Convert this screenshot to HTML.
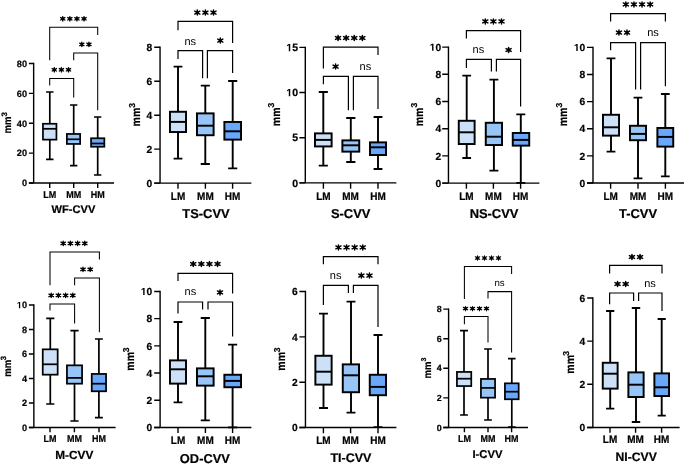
<!DOCTYPE html><html><head><meta charset="utf-8"><style>html,body{margin:0;padding:0;background:#fff;width:685px;height:464px;overflow:hidden}svg{display:block;will-change:transform}text{font-family:"Liberation Sans",sans-serif;text-rendering:geometricPrecision}text[font-weight=bold]{stroke:#000;stroke-width:0.2px}</style></head><body>
<svg width="685" height="464" viewBox="0 0 685 464">
<rect width="685" height="464" fill="#fff"/>
<g><path d="M33.65 62.85V183.7M28.9 183H114" stroke="#000" stroke-width="1.4" fill="none"/><path d="M28.9 63.55H33.65M28.9 93.41H33.65M28.9 123.28H33.65M28.9 153.14H33.65M28.9 183H33.65" stroke="#000" stroke-width="1.4" fill="none"/><path d="M49.7 183V187.9M73.7 183V187.9M97.7 183V187.9" stroke="#000" stroke-width="1.4" fill="none"/><text x="27" y="66.84" font-size="9.18" font-weight="bold" text-anchor="end">80</text><text x="27" y="96.7" font-size="9.18" font-weight="bold" text-anchor="end">60</text><text x="27" y="126.56" font-size="9.18" font-weight="bold" text-anchor="end">40</text><text x="27" y="156.42" font-size="9.18" font-weight="bold" text-anchor="end">20</text><text x="27" y="186.29" font-size="9.18" font-weight="bold" text-anchor="end">0</text><text transform="translate(49.7 197.72) scale(1 1.11)" font-size="9" font-weight="bold" text-anchor="middle">LM</text><text transform="translate(73.7 197.72) scale(1 1.11)" font-size="9" font-weight="bold" text-anchor="middle">MM</text><text transform="translate(97.7 197.72) scale(1 1.11)" font-size="9" font-weight="bold" text-anchor="middle">HM</text><text x="73.45" y="213.47" font-size="11.1" font-weight="bold" text-anchor="middle">WF-CVV</text><text transform="translate(10.5 125.05) rotate(-90) scale(1 1.1)" font-size="9.54" font-weight="bold" text-anchor="middle">mm</text><text transform="translate(6.5 114.35) rotate(-90)" font-size="7.92" font-weight="bold" text-anchor="middle">3</text><path d="M49.8 92V123.76M49.8 139.64V159.4M46.08 92H53.52M46.08 159.4H53.52" stroke="#000" stroke-width="1.68" fill="none"/><rect x="42.96" y="123.76" width="13.48" height="15.88" fill="#cce1f7" stroke="#000" stroke-width="1.72"/><path d="M42.96 128.8H56.44" stroke="#000" stroke-width="1.72"/><path d="M73.7 105V133.96M73.7 143.94V165.6M70.03 105H77.38M70.03 165.6H77.38" stroke="#000" stroke-width="1.68" fill="none"/><rect x="66.86" y="133.96" width="13.28" height="9.98" fill="#97c5f7" stroke="#000" stroke-width="1.72"/><path d="M66.86 139.3H80.14" stroke="#000" stroke-width="1.72"/><path d="M97.7 117V138.26M97.7 146.74V175M94.03 117H101.38M94.03 175H101.38" stroke="#000" stroke-width="1.68" fill="none"/><rect x="91.06" y="138.26" width="13.28" height="8.48" fill="#68a7fa" stroke="#000" stroke-width="1.72"/><path d="M91.06 143.5H104.34" stroke="#000" stroke-width="1.72"/><path d="M49.7 60.2V27.2H97.7V35" stroke="#000" stroke-width="1.05" fill="none"/><path d="M73.7 60.2V53H97.7V110.2" stroke="#000" stroke-width="1.05" fill="none"/><path d="M49.7 85.6V78.4H73.7V97.6" stroke="#000" stroke-width="1.05" fill="none"/><path d="M62.75 16.72V20.88M60.65 17.59L64.85 20.01M64.85 17.59L60.65 20.01M69.85 16.72V20.88M67.75 17.59L71.95 20.01M71.95 17.59L67.75 20.01M76.95 16.72V20.88M74.85 17.59L79.05 20.01M79.05 17.59L74.85 20.01M84.05 16.72V20.88M81.95 17.59L86.15 20.01M86.15 17.59L81.95 20.01M81.85 42.32V46.48M79.75 43.19L83.95 45.61M83.95 43.19L79.75 45.61M88.95 42.32V46.48M86.85 43.19L91.05 45.61M91.05 43.19L86.85 45.61M54.3 67.72V71.88M52.2 68.59L56.4 71.01M56.4 68.59L52.2 71.01M61.4 67.72V71.88M59.3 68.59L63.5 71.01M63.5 68.59L59.3 71.01M68.5 67.72V71.88M66.4 68.59L70.6 71.01M70.6 68.59L66.4 71.01" stroke="#000" stroke-width="1.4" stroke-linecap="round" fill="none"/><path d="M61.36 18.8a1.39 1.39 0 1 0 2.77 0a1.39 1.39 0 1 0 -2.77 0zM68.46 18.8a1.39 1.39 0 1 0 2.77 0a1.39 1.39 0 1 0 -2.77 0zM75.56 18.8a1.39 1.39 0 1 0 2.77 0a1.39 1.39 0 1 0 -2.77 0zM82.66 18.8a1.39 1.39 0 1 0 2.77 0a1.39 1.39 0 1 0 -2.77 0zM80.46 44.4a1.39 1.39 0 1 0 2.77 0a1.39 1.39 0 1 0 -2.77 0zM87.56 44.4a1.39 1.39 0 1 0 2.77 0a1.39 1.39 0 1 0 -2.77 0zM52.91 69.8a1.39 1.39 0 1 0 2.77 0a1.39 1.39 0 1 0 -2.77 0zM60.01 69.8a1.39 1.39 0 1 0 2.77 0a1.39 1.39 0 1 0 -2.77 0zM67.11 69.8a1.39 1.39 0 1 0 2.77 0a1.39 1.39 0 1 0 -2.77 0z" fill="#000"/></g>
<g><path d="M160.05 46.6V183.8M154.2 183.1H251.4" stroke="#000" stroke-width="1.4" fill="none"/><path d="M154.2 47.3H160.05M154.2 81.25H160.05M154.2 115.2H160.05M154.2 149.15H160.05M154.2 183.1H160.05" stroke="#000" stroke-width="1.4" fill="none"/><path d="M178 183.1V188.7M205.4 183.1V188.7M232.6 183.1V188.7" stroke="#000" stroke-width="1.4" fill="none"/><text x="152.3" y="50.97" font-size="10.26" font-weight="bold" text-anchor="end">8</text><text x="152.3" y="84.92" font-size="10.26" font-weight="bold" text-anchor="end">6</text><text x="152.3" y="118.87" font-size="10.26" font-weight="bold" text-anchor="end">4</text><text x="152.3" y="152.82" font-size="10.26" font-weight="bold" text-anchor="end">2</text><text x="152.3" y="186.77" font-size="10.26" font-weight="bold" text-anchor="end">0</text><text transform="translate(178 199.68) scale(1 1.11)" font-size="10" font-weight="bold" text-anchor="middle">LM</text><text transform="translate(205.4 199.68) scale(1 1.11)" font-size="10" font-weight="bold" text-anchor="middle">MM</text><text transform="translate(232.6 199.68) scale(1 1.11)" font-size="10" font-weight="bold" text-anchor="middle">HM</text><text x="206" y="217.72" font-size="12.9" font-weight="bold" text-anchor="middle">TS-CVV</text><text transform="translate(140.1 117.1) rotate(-90) scale(1 1.1)" font-size="10.6" font-weight="bold" text-anchor="middle">mm</text><text transform="translate(134.6 105.3) rotate(-90)" font-size="8.6" font-weight="bold" text-anchor="middle">3</text><path d="M178 66.6V111.78M178 132.03V158.6M173.59 66.6H182.41M173.59 158.6H182.41" stroke="#000" stroke-width="1.9" fill="none"/><rect x="169.97" y="111.78" width="16.05" height="20.25" fill="#cce1f7" stroke="#000" stroke-width="1.95"/><path d="M169.97 121.9H186.03" stroke="#000" stroke-width="1.95"/><path d="M205.3 85.6V113.38M205.3 135.22V164M200.74 85.6H209.86M200.74 164H209.86" stroke="#000" stroke-width="1.9" fill="none"/><rect x="196.97" y="113.38" width="16.65" height="21.85" fill="#97c5f7" stroke="#000" stroke-width="1.95"/><path d="M196.97 125.7H213.62" stroke="#000" stroke-width="1.95"/><path d="M232.7 81V121.97M232.7 139.62V168.4M228.14 81H237.26M228.14 168.4H237.26" stroke="#000" stroke-width="1.9" fill="none"/><rect x="224.38" y="121.97" width="16.65" height="17.65" fill="#68a7fa" stroke="#000" stroke-width="1.95"/><path d="M224.38 131.3H241.03" stroke="#000" stroke-width="1.95"/><path d="M178 30.2V21.4H232.6V43" stroke="#000" stroke-width="1.2" fill="none"/><path d="M178 59V50.6H202.6V78.2" stroke="#000" stroke-width="1.2" fill="none"/><text x="190.2" y="44.56" font-size="11" text-anchor="middle" fill="#000">ns</text><path d="M207.4 78.2V50.6H232.6V73" stroke="#000" stroke-width="1.2" fill="none"/><path d="M197.3 10.1V15.1M194.77 11.14L199.83 14.06M199.83 11.14L194.77 14.06M205.4 10.1V15.1M202.87 11.14L207.93 14.06M207.93 11.14L202.87 14.06M213.5 10.1V15.1M210.97 11.14L216.03 14.06M216.03 11.14L210.97 14.06M220.3 38.1V43.1M217.77 39.14L222.83 42.06M222.83 39.14L217.77 42.06" stroke="#000" stroke-width="1.5" stroke-linecap="round" fill="none"/><path d="M195.63 12.6a1.67 1.67 0 1 0 3.34 0a1.67 1.67 0 1 0 -3.34 0zM203.73 12.6a1.67 1.67 0 1 0 3.34 0a1.67 1.67 0 1 0 -3.34 0zM211.83 12.6a1.67 1.67 0 1 0 3.34 0a1.67 1.67 0 1 0 -3.34 0zM218.63 40.6a1.67 1.67 0 1 0 3.34 0a1.67 1.67 0 1 0 -3.34 0z" fill="#000"/></g>
<g><path d="M305.3 46.7V183.55M299.4 182.85H396.4" stroke="#000" stroke-width="1.4" fill="none"/><path d="M299.4 47.4H305.3M299.4 92.55H305.3M299.4 137.7H305.3M299.4 182.85H305.3" stroke="#000" stroke-width="1.4" fill="none"/><path d="M323.4 182.85V188.7M350.6 182.85V188.7M378 182.85V188.7" stroke="#000" stroke-width="1.4" fill="none"/><path transform="translate(286.35 51.15) scale(0.00512 -0.00512)" d="M478 0V1170L140 959V1180L493 1409H759V0Z"/><text x="292.17" y="51.15" font-size="10.48" font-weight="bold">5</text><path transform="translate(286.35 96.3) scale(0.00512 -0.00512)" d="M478 0V1170L140 959V1180L493 1409H759V0Z"/><text x="292.17" y="96.3" font-size="10.48" font-weight="bold">0</text><text x="298" y="141.45" font-size="10.48" font-weight="bold" text-anchor="end">5</text><text x="298" y="186.6" font-size="10.48" font-weight="bold" text-anchor="end">0</text><text transform="translate(323.4 199.68) scale(1 1.11)" font-size="10" font-weight="bold" text-anchor="middle">LM</text><text transform="translate(350.6 199.68) scale(1 1.11)" font-size="10" font-weight="bold" text-anchor="middle">MM</text><text transform="translate(378 199.68) scale(1 1.11)" font-size="10" font-weight="bold" text-anchor="middle">HM</text><text x="350.65" y="217.82" font-size="12.9" font-weight="bold" text-anchor="middle">S-CVV</text><text transform="translate(279.6 116.85) rotate(-90) scale(1 1.1)" font-size="10.6" font-weight="bold" text-anchor="middle">mm</text><text transform="translate(274.3 105.15) rotate(-90)" font-size="8.6" font-weight="bold" text-anchor="middle">3</text><path d="M323.3 92V133.38M323.3 146.43V165.6M318.74 92H327.86M318.74 165.6H327.86" stroke="#000" stroke-width="1.9" fill="none"/><rect x="314.98" y="133.38" width="16.65" height="13.05" fill="#cce1f7" stroke="#000" stroke-width="1.95"/><path d="M314.98 139.9H331.62" stroke="#000" stroke-width="1.95"/><path d="M350.8 118V140.38M350.8 151.62V162M346.19 118H355.41M346.19 162H355.41" stroke="#000" stroke-width="1.9" fill="none"/><rect x="342.38" y="140.38" width="16.85" height="11.25" fill="#97c5f7" stroke="#000" stroke-width="1.95"/><path d="M342.38 145.3H359.23" stroke="#000" stroke-width="1.95"/><path d="M378 117V142.38M378 155.03V169M373.59 117H382.41M373.59 169H382.41" stroke="#000" stroke-width="1.9" fill="none"/><rect x="369.98" y="142.38" width="16.05" height="12.65" fill="#68a7fa" stroke="#000" stroke-width="1.95"/><path d="M369.98 147.3H386.02" stroke="#000" stroke-width="1.95"/><path d="M323.4 68.6V47.2H378V55" stroke="#000" stroke-width="1.2" fill="none"/><path d="M323.4 84.2V76.4H348.4V110.2" stroke="#000" stroke-width="1.2" fill="none"/><path d="M353.4 110.2V76.4H378V109" stroke="#000" stroke-width="1.2" fill="none"/><text x="365.4" y="69.76" font-size="11" text-anchor="middle" fill="#000">ns</text><path d="M338.05 35.5V40.5M335.52 36.54L340.58 39.46M340.58 36.54L335.52 39.46M346.15 35.5V40.5M343.62 36.54L348.68 39.46M348.68 36.54L343.62 39.46M354.25 35.5V40.5M351.72 36.54L356.78 39.46M356.78 36.54L351.72 39.46M362.35 35.5V40.5M359.82 36.54L364.88 39.46M364.88 36.54L359.82 39.46M335.6 64.1V69.1M333.07 65.14L338.13 68.06M338.13 65.14L333.07 68.06" stroke="#000" stroke-width="1.5" stroke-linecap="round" fill="none"/><path d="M336.38 38a1.67 1.67 0 1 0 3.34 0a1.67 1.67 0 1 0 -3.34 0zM344.48 38a1.67 1.67 0 1 0 3.34 0a1.67 1.67 0 1 0 -3.34 0zM352.58 38a1.67 1.67 0 1 0 3.34 0a1.67 1.67 0 1 0 -3.34 0zM360.68 38a1.67 1.67 0 1 0 3.34 0a1.67 1.67 0 1 0 -3.34 0zM333.93 66.6a1.67 1.67 0 1 0 3.34 0a1.67 1.67 0 1 0 -3.34 0z" fill="#000"/></g>
<g><path d="M448.45 46.4V183.8M442.2 183.1H539.4" stroke="#000" stroke-width="1.4" fill="none"/><path d="M442.2 47.1H448.45M442.2 74.3H448.45M442.2 101.5H448.45M442.2 128.7H448.45M442.2 155.9H448.45M442.2 183.1H448.45" stroke="#000" stroke-width="1.4" fill="none"/><path d="M466.4 183.1V188.7M493.4 183.1V188.7M520.6 183.1V188.7" stroke="#000" stroke-width="1.4" fill="none"/><path transform="translate(429.69 50.77) scale(0.00501 -0.00501)" d="M478 0V1170L140 959V1180L493 1409H759V0Z"/><text x="435.39" y="50.77" font-size="10.26" font-weight="bold">0</text><text x="441.1" y="77.97" font-size="10.26" font-weight="bold" text-anchor="end">8</text><text x="441.1" y="105.17" font-size="10.26" font-weight="bold" text-anchor="end">6</text><text x="441.1" y="132.37" font-size="10.26" font-weight="bold" text-anchor="end">4</text><text x="441.1" y="159.57" font-size="10.26" font-weight="bold" text-anchor="end">2</text><text x="441.1" y="186.77" font-size="10.26" font-weight="bold" text-anchor="end">0</text><text transform="translate(466.4 199.68) scale(1 1.11)" font-size="10" font-weight="bold" text-anchor="middle">LM</text><text transform="translate(493.4 199.68) scale(1 1.11)" font-size="10" font-weight="bold" text-anchor="middle">MM</text><text transform="translate(520.6 199.68) scale(1 1.11)" font-size="10" font-weight="bold" text-anchor="middle">HM</text><text x="494" y="217.82" font-size="12.9" font-weight="bold" text-anchor="middle">NS-CVV</text><text transform="translate(422.5 116.95) rotate(-90) scale(1 1.1)" font-size="10.6" font-weight="bold" text-anchor="middle">mm</text><text transform="translate(416.7 105.15) rotate(-90)" font-size="8.6" font-weight="bold" text-anchor="middle">3</text><path d="M466.7 75.6V120.78M466.7 144.03V158M462.34 75.6H471.06M462.34 158H471.06" stroke="#000" stroke-width="1.9" fill="none"/><rect x="458.77" y="120.78" width="15.85" height="23.25" fill="#cce1f7" stroke="#000" stroke-width="1.95"/><path d="M458.77 132.3H474.62" stroke="#000" stroke-width="1.95"/><path d="M493.9 79.6V122.78M493.9 145.03V170.6M489.44 79.6H498.36M489.44 170.6H498.36" stroke="#000" stroke-width="1.9" fill="none"/><rect x="485.77" y="122.78" width="16.25" height="22.25" fill="#97c5f7" stroke="#000" stroke-width="1.95"/><path d="M485.77 136.7H502.02" stroke="#000" stroke-width="1.95"/><path d="M520.8 114.4V132.97M520.8 145.62V182.9M516.29 114.4H525.31M516.29 182.9H525.31" stroke="#000" stroke-width="1.9" fill="none"/><rect x="512.77" y="132.97" width="16.45" height="12.65" fill="#68a7fa" stroke="#000" stroke-width="1.95"/><path d="M512.77 139.9H529.23" stroke="#000" stroke-width="1.95"/><path d="M466.4 38.6V30.6H520.6V52" stroke="#000" stroke-width="1.2" fill="none"/><path d="M466.4 68V59.4H491.4V71.6" stroke="#000" stroke-width="1.2" fill="none"/><text x="478.4" y="53.36" font-size="11" text-anchor="middle" fill="#000">ns</text><path d="M496.4 71.6V59.4H520.6V106.6" stroke="#000" stroke-width="1.2" fill="none"/><path d="M485.3 18.9V23.9M482.77 19.94L487.83 22.86M487.83 19.94L482.77 22.86M493.4 18.9V23.9M490.87 19.94L495.93 22.86M495.93 19.94L490.87 22.86M501.5 18.9V23.9M498.97 19.94L504.03 22.86M504.03 19.94L498.97 22.86M508.6 47.5V52.5M506.07 48.54L511.13 51.46M511.13 48.54L506.07 51.46" stroke="#000" stroke-width="1.5" stroke-linecap="round" fill="none"/><path d="M483.63 21.4a1.67 1.67 0 1 0 3.34 0a1.67 1.67 0 1 0 -3.34 0zM491.73 21.4a1.67 1.67 0 1 0 3.34 0a1.67 1.67 0 1 0 -3.34 0zM499.83 21.4a1.67 1.67 0 1 0 3.34 0a1.67 1.67 0 1 0 -3.34 0zM506.93 50a1.67 1.67 0 1 0 3.34 0a1.67 1.67 0 1 0 -3.34 0z" fill="#000"/></g>
<g><path d="M593 46.7V183.7M587 183H684" stroke="#000" stroke-width="1.4" fill="none"/><path d="M587 47.4H593M587 74.52H593M587 101.64H593M587 128.76H593M587 155.88H593M587 183H593" stroke="#000" stroke-width="1.4" fill="none"/><path d="M610.6 183V188.7M638 183V188.7M665.4 183V188.7" stroke="#000" stroke-width="1.4" fill="none"/><path transform="translate(573.89 51.07) scale(0.00501 -0.00501)" d="M478 0V1170L140 959V1180L493 1409H759V0Z"/><text x="579.59" y="51.07" font-size="10.26" font-weight="bold">0</text><text x="585.3" y="78.19" font-size="10.26" font-weight="bold" text-anchor="end">8</text><text x="585.3" y="105.31" font-size="10.26" font-weight="bold" text-anchor="end">6</text><text x="585.3" y="132.43" font-size="10.26" font-weight="bold" text-anchor="end">4</text><text x="585.3" y="159.55" font-size="10.26" font-weight="bold" text-anchor="end">2</text><text x="585.3" y="186.67" font-size="10.26" font-weight="bold" text-anchor="end">0</text><text transform="translate(610.6 199.68) scale(1 1.11)" font-size="10" font-weight="bold" text-anchor="middle">LM</text><text transform="translate(638 199.68) scale(1 1.11)" font-size="10" font-weight="bold" text-anchor="middle">MM</text><text transform="translate(665.4 199.68) scale(1 1.11)" font-size="10" font-weight="bold" text-anchor="middle">HM</text><text x="638" y="217.92" font-size="12.9" font-weight="bold" text-anchor="middle">T-CVV</text><text transform="translate(567.1 116.95) rotate(-90) scale(1 1.1)" font-size="10.6" font-weight="bold" text-anchor="middle">mm</text><text transform="translate(561.7 105.15) rotate(-90)" font-size="8.6" font-weight="bold" text-anchor="middle">3</text><path d="M611 58.4V114.78M611 135.62V151.6M606.59 58.4H615.41M606.59 151.6H615.41" stroke="#000" stroke-width="1.9" fill="none"/><rect x="602.98" y="114.78" width="16.05" height="20.85" fill="#cce1f7" stroke="#000" stroke-width="1.95"/><path d="M602.98 127.3H619.02" stroke="#000" stroke-width="1.95"/><path d="M638 97.6V125.78M638 140.22V178.4M633.59 97.6H642.41M633.59 178.4H642.41" stroke="#000" stroke-width="1.9" fill="none"/><rect x="629.98" y="125.78" width="16.05" height="14.45" fill="#97c5f7" stroke="#000" stroke-width="1.95"/><path d="M629.98 133.9H646.02" stroke="#000" stroke-width="1.95"/><path d="M665.3 94V127.97M665.3 146.62V176.4M660.94 94H669.66M660.94 176.4H669.66" stroke="#000" stroke-width="1.9" fill="none"/><rect x="657.38" y="127.97" width="15.85" height="18.65" fill="#68a7fa" stroke="#000" stroke-width="1.95"/><path d="M657.38 136.9H673.23" stroke="#000" stroke-width="1.95"/><path d="M610.6 21.6V13.6H665.4V21.6" stroke="#000" stroke-width="1.2" fill="none"/><path d="M610.6 50.2V42.6H635.6V89.6" stroke="#000" stroke-width="1.2" fill="none"/><path d="M640.6 89.6V42.6H665.4V86.2" stroke="#000" stroke-width="1.2" fill="none"/><text x="653" y="35.76" font-size="11" text-anchor="middle" fill="#000">ns</text><path d="M625.85 1.9V6.9M623.32 2.94L628.38 5.86M628.38 2.94L623.32 5.86M633.95 1.9V6.9M631.42 2.94L636.48 5.86M636.48 2.94L631.42 5.86M642.05 1.9V6.9M639.52 2.94L644.58 5.86M644.58 2.94L639.52 5.86M650.15 1.9V6.9M647.62 2.94L652.68 5.86M652.68 2.94L647.62 5.86M618.95 30.1V35.1M616.42 31.14L621.48 34.06M621.48 31.14L616.42 34.06M627.05 30.1V35.1M624.52 31.14L629.58 34.06M629.58 31.14L624.52 34.06" stroke="#000" stroke-width="1.5" stroke-linecap="round" fill="none"/><path d="M624.18 4.4a1.67 1.67 0 1 0 3.34 0a1.67 1.67 0 1 0 -3.34 0zM632.28 4.4a1.67 1.67 0 1 0 3.34 0a1.67 1.67 0 1 0 -3.34 0zM640.38 4.4a1.67 1.67 0 1 0 3.34 0a1.67 1.67 0 1 0 -3.34 0zM648.48 4.4a1.67 1.67 0 1 0 3.34 0a1.67 1.67 0 1 0 -3.34 0zM617.28 32.6a1.67 1.67 0 1 0 3.34 0a1.67 1.67 0 1 0 -3.34 0zM625.38 32.6a1.67 1.67 0 1 0 3.34 0a1.67 1.67 0 1 0 -3.34 0z" fill="#000"/></g>
<g><path d="M33.85 304.3V428.15M28.9 427.45H115.6" stroke="#000" stroke-width="1.4" fill="none"/><path d="M28.9 305H33.85M28.9 329.49H33.85M28.9 353.98H33.85M28.9 378.47H33.85M28.9 402.96H33.85M28.9 427.45H33.85" stroke="#000" stroke-width="1.4" fill="none"/><path d="M50 427.45V432.2M74.4 427.45V432.2M99 427.45V432.2" stroke="#000" stroke-width="1.4" fill="none"/><path transform="translate(16.79 308.29) scale(0.00448 -0.00448)" d="M478 0V1170L140 959V1180L493 1409H759V0Z"/><text x="21.89" y="308.29" font-size="9.18" font-weight="bold">0</text><text x="27" y="332.78" font-size="9.18" font-weight="bold" text-anchor="end">8</text><text x="27" y="357.27" font-size="9.18" font-weight="bold" text-anchor="end">6</text><text x="27" y="381.76" font-size="9.18" font-weight="bold" text-anchor="end">4</text><text x="27" y="406.25" font-size="9.18" font-weight="bold" text-anchor="end">2</text><text x="27" y="430.74" font-size="9.18" font-weight="bold" text-anchor="end">0</text><text transform="translate(50 441.92) scale(1 1.11)" font-size="9" font-weight="bold" text-anchor="middle">LM</text><text transform="translate(74.4 441.92) scale(1 1.11)" font-size="9" font-weight="bold" text-anchor="middle">MM</text><text transform="translate(99 441.92) scale(1 1.11)" font-size="9" font-weight="bold" text-anchor="middle">HM</text><text x="74.3" y="458.62" font-size="11.8" font-weight="bold" text-anchor="middle">M-CVV</text><text transform="translate(10.5 368.35) rotate(-90) scale(1 1.1)" font-size="9.54" font-weight="bold" text-anchor="middle">mm</text><text transform="translate(5.9 358.1) rotate(-90)" font-size="7.65" font-weight="bold" text-anchor="middle">3</text><path d="M50.3 318.4V349.34M50.3 374.66V404M46.21 318.4H54.39M46.21 404H54.39" stroke="#000" stroke-width="1.72" fill="none"/><rect x="42.74" y="349.34" width="14.93" height="25.33" fill="#cce1f7" stroke="#000" stroke-width="1.75"/><path d="M42.74 364.3H57.66" stroke="#000" stroke-width="1.75"/><path d="M74.5 330.6V365.34M74.5 383.66V421M70.36 330.6H78.64M70.36 421H78.64" stroke="#000" stroke-width="1.72" fill="none"/><rect x="66.94" y="365.34" width="15.13" height="18.33" fill="#97c5f7" stroke="#000" stroke-width="1.75"/><path d="M66.94 377.9H82.06" stroke="#000" stroke-width="1.75"/><path d="M98.9 339V373.94M98.9 391.26V417.6M94.96 339H102.84M94.96 417.6H102.84" stroke="#000" stroke-width="1.72" fill="none"/><rect x="91.74" y="373.94" width="14.33" height="17.33" fill="#68a7fa" stroke="#000" stroke-width="1.75"/><path d="M91.74 383.7H106.06" stroke="#000" stroke-width="1.75"/><path d="M50 285.2V252H99.4V259.6" stroke="#000" stroke-width="1.05" fill="none"/><path d="M74.6 285.2V278H99.4V332.2" stroke="#000" stroke-width="1.05" fill="none"/><path d="M50 310.6V304H74.6V323.6" stroke="#000" stroke-width="1.05" fill="none"/><path d="M63.2 241.24V245.56M61.02 242.14L65.38 244.66M65.38 242.14L61.02 244.66M70.4 241.24V245.56M68.22 242.14L72.58 244.66M72.58 242.14L68.22 244.66M77.6 241.24V245.56M75.42 242.14L79.78 244.66M79.78 242.14L75.42 244.66M84.8 241.24V245.56M82.62 242.14L86.98 244.66M86.98 242.14L82.62 244.66M83 267.24V271.56M80.82 268.14L85.18 270.66M85.18 268.14L80.82 270.66M90.2 267.24V271.56M88.02 268.14L92.38 270.66M92.38 268.14L88.02 270.66M51.2 293.24V297.56M49.02 294.14L53.38 296.66M53.38 294.14L49.02 296.66M58.4 293.24V297.56M56.22 294.14L60.58 296.66M60.58 294.14L56.22 296.66M65.6 293.24V297.56M63.42 294.14L67.78 296.66M67.78 294.14L63.42 296.66M72.8 293.24V297.56M70.62 294.14L74.98 296.66M74.98 294.14L70.62 296.66" stroke="#000" stroke-width="1.4" stroke-linecap="round" fill="none"/><path d="M61.76 243.4a1.44 1.44 0 1 0 2.88 0a1.44 1.44 0 1 0 -2.88 0zM68.96 243.4a1.44 1.44 0 1 0 2.88 0a1.44 1.44 0 1 0 -2.88 0zM76.16 243.4a1.44 1.44 0 1 0 2.88 0a1.44 1.44 0 1 0 -2.88 0zM83.36 243.4a1.44 1.44 0 1 0 2.88 0a1.44 1.44 0 1 0 -2.88 0zM81.56 269.4a1.44 1.44 0 1 0 2.88 0a1.44 1.44 0 1 0 -2.88 0zM88.76 269.4a1.44 1.44 0 1 0 2.88 0a1.44 1.44 0 1 0 -2.88 0zM49.76 295.4a1.44 1.44 0 1 0 2.88 0a1.44 1.44 0 1 0 -2.88 0zM56.96 295.4a1.44 1.44 0 1 0 2.88 0a1.44 1.44 0 1 0 -2.88 0zM64.16 295.4a1.44 1.44 0 1 0 2.88 0a1.44 1.44 0 1 0 -2.88 0zM71.36 295.4a1.44 1.44 0 1 0 2.88 0a1.44 1.44 0 1 0 -2.88 0z" fill="#000"/></g>
<g><path d="M160.1 290.75V428.15M154.2 427.45H251.4" stroke="#000" stroke-width="1.4" fill="none"/><path d="M154.2 291.45H160.1M154.2 318.65H160.1M154.2 345.85H160.1M154.2 373.05H160.1M154.2 400.25H160.1M154.2 427.45H160.1" stroke="#000" stroke-width="1.4" fill="none"/><path d="M178 427.45V433.1M205.4 427.45V433.1M232.6 427.45V433.1" stroke="#000" stroke-width="1.4" fill="none"/><path transform="translate(140.79 295.12) scale(0.00501 -0.00501)" d="M478 0V1170L140 959V1180L493 1409H759V0Z"/><text x="146.49" y="295.12" font-size="10.26" font-weight="bold">0</text><text x="152.2" y="322.32" font-size="10.26" font-weight="bold" text-anchor="end">8</text><text x="152.2" y="349.52" font-size="10.26" font-weight="bold" text-anchor="end">6</text><text x="152.2" y="376.72" font-size="10.26" font-weight="bold" text-anchor="end">4</text><text x="152.2" y="403.92" font-size="10.26" font-weight="bold" text-anchor="end">2</text><text x="152.2" y="431.12" font-size="10.26" font-weight="bold" text-anchor="end">0</text><text transform="translate(178 444.08) scale(1 1.11)" font-size="10" font-weight="bold" text-anchor="middle">LM</text><text transform="translate(205.4 444.08) scale(1 1.11)" font-size="10" font-weight="bold" text-anchor="middle">MM</text><text transform="translate(232.6 444.08) scale(1 1.11)" font-size="10" font-weight="bold" text-anchor="middle">HM</text><text x="204.85" y="462.5" font-size="12.85" font-weight="bold" text-anchor="middle">OD-CVV</text><text transform="translate(134.3 361.25) rotate(-90) scale(1 1.1)" font-size="10.6" font-weight="bold" text-anchor="middle">mm</text><text transform="translate(128.8 349.85) rotate(-90)" font-size="8.6" font-weight="bold" text-anchor="middle">3</text><path d="M178 322V360.38M178 383.62V402.4M173.59 322H182.41M173.59 402.4H182.41" stroke="#000" stroke-width="1.9" fill="none"/><rect x="169.97" y="360.38" width="16.05" height="23.25" fill="#cce1f7" stroke="#000" stroke-width="1.95"/><path d="M169.97 369.3H186.03" stroke="#000" stroke-width="1.95"/><path d="M205.3 318V368.38M205.3 385.62V420.4M200.74 318H209.86M200.74 420.4H209.86" stroke="#000" stroke-width="1.9" fill="none"/><rect x="196.97" y="368.38" width="16.65" height="17.25" fill="#97c5f7" stroke="#000" stroke-width="1.95"/><path d="M196.97 376.3H213.62" stroke="#000" stroke-width="1.95"/><path d="M232.6 344.6V374.77M232.6 387.23V427.4M228.04 344.6H237.16M228.04 427.4H237.16" stroke="#000" stroke-width="1.9" fill="none"/><rect x="224.38" y="374.77" width="16.65" height="12.45" fill="#68a7fa" stroke="#000" stroke-width="1.95"/><path d="M224.38 380.9H241.03" stroke="#000" stroke-width="1.95"/><path d="M178 281V273.4H232.6V293.6" stroke="#000" stroke-width="1.2" fill="none"/><path d="M178 313.6V302H202.6V309.6" stroke="#000" stroke-width="1.2" fill="none"/><text x="190.4" y="295.36" font-size="11" text-anchor="middle" fill="#000">ns</text><path d="M208 309.6V302H232.6V336.6" stroke="#000" stroke-width="1.2" fill="none"/><path d="M193.25 261.5V266.5M190.72 262.54L195.78 265.46M195.78 262.54L190.72 265.46M201.35 261.5V266.5M198.82 262.54L203.88 265.46M203.88 262.54L198.82 265.46M209.45 261.5V266.5M206.92 262.54L211.98 265.46M211.98 262.54L206.92 265.46M217.55 261.5V266.5M215.02 262.54L220.08 265.46M220.08 262.54L215.02 265.46M220 289.9V294.9M217.47 290.94L222.53 293.86M222.53 290.94L217.47 293.86" stroke="#000" stroke-width="1.5" stroke-linecap="round" fill="none"/><path d="M191.58 264a1.67 1.67 0 1 0 3.34 0a1.67 1.67 0 1 0 -3.34 0zM199.68 264a1.67 1.67 0 1 0 3.34 0a1.67 1.67 0 1 0 -3.34 0zM207.78 264a1.67 1.67 0 1 0 3.34 0a1.67 1.67 0 1 0 -3.34 0zM215.88 264a1.67 1.67 0 1 0 3.34 0a1.67 1.67 0 1 0 -3.34 0zM218.33 292.4a1.67 1.67 0 1 0 3.34 0a1.67 1.67 0 1 0 -3.34 0z" fill="#000"/></g>
<g><path d="M305.45 290.8V428.25M299.4 427.55H396.4" stroke="#000" stroke-width="1.4" fill="none"/><path d="M299.4 291.5H305.45M299.4 336.85H305.45M299.4 382.2H305.45M299.4 427.55H305.45" stroke="#000" stroke-width="1.4" fill="none"/><path d="M323.4 427.55V433.2M350.6 427.55V433.2M378 427.55V433.2" stroke="#000" stroke-width="1.4" fill="none"/><text x="297.6" y="295.17" font-size="10.26" font-weight="bold" text-anchor="end">6</text><text x="297.6" y="340.52" font-size="10.26" font-weight="bold" text-anchor="end">4</text><text x="297.6" y="385.87" font-size="10.26" font-weight="bold" text-anchor="end">2</text><text x="297.6" y="431.22" font-size="10.26" font-weight="bold" text-anchor="end">0</text><text transform="translate(323.4 444.08) scale(1 1.11)" font-size="10" font-weight="bold" text-anchor="middle">LM</text><text transform="translate(350.6 444.08) scale(1 1.11)" font-size="10" font-weight="bold" text-anchor="middle">MM</text><text transform="translate(378 444.08) scale(1 1.11)" font-size="10" font-weight="bold" text-anchor="middle">HM</text><text x="350.9" y="462.38" font-size="12.5" font-weight="bold" text-anchor="middle">TI-CVV</text><text transform="translate(285.2 361.25) rotate(-90) scale(1 1.1)" font-size="10.6" font-weight="bold" text-anchor="middle">mm</text><text transform="translate(279.9 349.85) rotate(-90)" font-size="8.6" font-weight="bold" text-anchor="middle">3</text><path d="M323.5 313.6V355.77M323.5 384.62V408M319.04 313.6H327.96M319.04 408H327.96" stroke="#000" stroke-width="1.9" fill="none"/><rect x="315.38" y="355.77" width="16.25" height="28.85" fill="#cce1f7" stroke="#000" stroke-width="1.95"/><path d="M315.38 371.7H331.62" stroke="#000" stroke-width="1.95"/><path d="M351 301.6V364.38M351 392.23V412.6M346.54 301.6H355.46M346.54 412.6H355.46" stroke="#000" stroke-width="1.9" fill="none"/><rect x="342.77" y="364.38" width="16.25" height="27.85" fill="#97c5f7" stroke="#000" stroke-width="1.95"/><path d="M342.77 375.3H359.02" stroke="#000" stroke-width="1.95"/><path d="M378 335V374.77M378 395.23V427.1M373.54 335H382.46M373.54 427.1H382.46" stroke="#000" stroke-width="1.9" fill="none"/><rect x="369.77" y="374.77" width="16.25" height="20.45" fill="#68a7fa" stroke="#000" stroke-width="1.95"/><path d="M369.77 386.9H386.02" stroke="#000" stroke-width="1.95"/><path d="M323.4 264.2V256.6H378V264.2" stroke="#000" stroke-width="1.2" fill="none"/><path d="M323.4 305V285.4H348.4V293" stroke="#000" stroke-width="1.2" fill="none"/><text x="335.6" y="278.76" font-size="11" text-anchor="middle" fill="#000">ns</text><path d="M353.4 293V285.4H378V327" stroke="#000" stroke-width="1.2" fill="none"/><path d="M338.45 244.9V249.9M335.92 245.94L340.98 248.86M340.98 245.94L335.92 248.86M346.55 244.9V249.9M344.02 245.94L349.08 248.86M349.08 245.94L344.02 248.86M354.65 244.9V249.9M352.12 245.94L357.18 248.86M357.18 245.94L352.12 248.86M362.75 244.9V249.9M360.22 245.94L365.28 248.86M365.28 245.94L360.22 248.86M361.35 273.1V278.1M358.82 274.14L363.88 277.06M363.88 274.14L358.82 277.06M369.45 273.1V278.1M366.92 274.14L371.98 277.06M371.98 274.14L366.92 277.06" stroke="#000" stroke-width="1.5" stroke-linecap="round" fill="none"/><path d="M336.78 247.4a1.67 1.67 0 1 0 3.34 0a1.67 1.67 0 1 0 -3.34 0zM344.88 247.4a1.67 1.67 0 1 0 3.34 0a1.67 1.67 0 1 0 -3.34 0zM352.98 247.4a1.67 1.67 0 1 0 3.34 0a1.67 1.67 0 1 0 -3.34 0zM361.08 247.4a1.67 1.67 0 1 0 3.34 0a1.67 1.67 0 1 0 -3.34 0zM359.68 275.6a1.67 1.67 0 1 0 3.34 0a1.67 1.67 0 1 0 -3.34 0zM367.78 275.6a1.67 1.67 0 1 0 3.34 0a1.67 1.67 0 1 0 -3.34 0z" fill="#000"/></g>
<g><path d="M448.6 308.4V428.15M443.3 427.45H528" stroke="#000" stroke-width="1.4" fill="none"/><path d="M443.3 309.1H448.6M443.3 338.69H448.6M443.3 368.27H448.6M443.3 397.86H448.6M443.3 427.45H448.6" stroke="#000" stroke-width="1.4" fill="none"/><path d="M464.4 427.45V432.2M488 427.45V432.2M511.6 427.45V432.2" stroke="#000" stroke-width="1.4" fill="none"/><text x="441.8" y="312.31" font-size="8.96" font-weight="bold" text-anchor="end">8</text><text x="441.8" y="341.9" font-size="8.96" font-weight="bold" text-anchor="end">6</text><text x="441.8" y="371.48" font-size="8.96" font-weight="bold" text-anchor="end">4</text><text x="441.8" y="401.07" font-size="8.96" font-weight="bold" text-anchor="end">2</text><text x="441.8" y="430.66" font-size="8.96" font-weight="bold" text-anchor="end">0</text><text transform="translate(464.4 441.92) scale(1 1.11)" font-size="9" font-weight="bold" text-anchor="middle">LM</text><text transform="translate(488 441.92) scale(1 1.11)" font-size="9" font-weight="bold" text-anchor="middle">MM</text><text transform="translate(511.6 441.92) scale(1 1.11)" font-size="9" font-weight="bold" text-anchor="middle">HM</text><text x="487.5" y="458.05" font-size="11.3" font-weight="bold" text-anchor="middle">I-CVV</text><text transform="translate(430.5 369.95) rotate(-90) scale(1 1.1)" font-size="9.54" font-weight="bold" text-anchor="middle">mm</text><text transform="translate(425.6 359.5) rotate(-90)" font-size="7.02" font-weight="bold" text-anchor="middle">3</text><path d="M464 330.6V371.93M464 386.07V415M460.07 330.6H467.93M460.07 415H467.93" stroke="#000" stroke-width="1.68" fill="none"/><rect x="456.93" y="371.93" width="14.34" height="14.14" fill="#cce1f7" stroke="#000" stroke-width="1.72"/><path d="M456.93 378.7H471.27" stroke="#000" stroke-width="1.72"/><path d="M488 349V378.93M488 397.67V420M484.12 349H491.88M484.12 420H491.88" stroke="#000" stroke-width="1.68" fill="none"/><rect x="480.93" y="378.93" width="14.14" height="18.74" fill="#97c5f7" stroke="#000" stroke-width="1.72"/><path d="M480.93 387.9H495.07" stroke="#000" stroke-width="1.72"/><path d="M511.8 358.6V383.33M511.8 399.27V427.1M508.01 358.6H515.59M508.01 427.1H515.59" stroke="#000" stroke-width="1.68" fill="none"/><rect x="504.93" y="383.33" width="13.74" height="15.94" fill="#68a7fa" stroke="#000" stroke-width="1.72"/><path d="M504.93 391.7H518.67" stroke="#000" stroke-width="1.72"/><path d="M464.4 299V266.4H511.6V274" stroke="#000" stroke-width="1.05" fill="none"/><path d="M488 298.6V291.6H511.6V352.6" stroke="#000" stroke-width="1.05" fill="none"/><text x="499.6" y="285.82" font-size="9.68" text-anchor="middle" fill="#000">ns</text><path d="M464.4 324.2V316.4H488V342.6" stroke="#000" stroke-width="1.05" fill="none"/><path d="M477.5 255.92V260.08M475.4 256.79L479.6 259.21M479.6 256.79L475.4 259.21M484.5 255.92V260.08M482.4 256.79L486.6 259.21M486.6 256.79L482.4 259.21M491.5 255.92V260.08M489.4 256.79L493.6 259.21M493.6 256.79L489.4 259.21M498.5 255.92V260.08M496.4 256.79L500.6 259.21M500.6 256.79L496.4 259.21M465.5 306.52V310.68M463.4 307.39L467.6 309.81M467.6 307.39L463.4 309.81M472.5 306.52V310.68M470.4 307.39L474.6 309.81M474.6 307.39L470.4 309.81M479.5 306.52V310.68M477.4 307.39L481.6 309.81M481.6 307.39L477.4 309.81M486.5 306.52V310.68M484.4 307.39L488.6 309.81M488.6 307.39L484.4 309.81" stroke="#000" stroke-width="1.25" stroke-linecap="round" fill="none"/><path d="M476.11 258a1.39 1.39 0 1 0 2.77 0a1.39 1.39 0 1 0 -2.77 0zM483.11 258a1.39 1.39 0 1 0 2.77 0a1.39 1.39 0 1 0 -2.77 0zM490.11 258a1.39 1.39 0 1 0 2.77 0a1.39 1.39 0 1 0 -2.77 0zM497.11 258a1.39 1.39 0 1 0 2.77 0a1.39 1.39 0 1 0 -2.77 0zM464.11 308.6a1.39 1.39 0 1 0 2.77 0a1.39 1.39 0 1 0 -2.77 0zM471.11 308.6a1.39 1.39 0 1 0 2.77 0a1.39 1.39 0 1 0 -2.77 0zM478.11 308.6a1.39 1.39 0 1 0 2.77 0a1.39 1.39 0 1 0 -2.77 0zM485.11 308.6a1.39 1.39 0 1 0 2.77 0a1.39 1.39 0 1 0 -2.77 0z" fill="#000"/></g>
<g><path d="M592.85 297.3V428.15M587.2 427.45H679.6" stroke="#000" stroke-width="1.4" fill="none"/><path d="M587.2 298H592.85M587.2 341.15H592.85M587.2 384.3H592.85M587.2 427.45H592.85" stroke="#000" stroke-width="1.4" fill="none"/><path d="M610 427.45V432.7M635.6 427.45V432.7M661.6 427.45V432.7" stroke="#000" stroke-width="1.4" fill="none"/><text x="585.2" y="301.67" font-size="10.26" font-weight="bold" text-anchor="end">6</text><text x="585.2" y="344.82" font-size="10.26" font-weight="bold" text-anchor="end">4</text><text x="585.2" y="387.97" font-size="10.26" font-weight="bold" text-anchor="end">2</text><text x="585.2" y="431.12" font-size="10.26" font-weight="bold" text-anchor="end">0</text><text transform="translate(610 443.28) scale(1 1.11)" font-size="10" font-weight="bold" text-anchor="middle">LM</text><text transform="translate(635.6 443.28) scale(1 1.11)" font-size="10" font-weight="bold" text-anchor="middle">MM</text><text transform="translate(661.6 443.28) scale(1 1.11)" font-size="10" font-weight="bold" text-anchor="middle">HM</text><text x="636.2" y="460.57" font-size="12.2" font-weight="bold" text-anchor="middle">NI-CVV</text><text transform="translate(573.5 364.35) rotate(-90) scale(1 1.1)" font-size="10.6" font-weight="bold" text-anchor="middle">mm</text><text transform="translate(568.7 353.45) rotate(-90)" font-size="8.6" font-weight="bold" text-anchor="middle">3</text><path d="M610.2 311V362.77M610.2 388.62V408.6M606.08 311H614.32M606.08 408.6H614.32" stroke="#000" stroke-width="1.9" fill="none"/><rect x="602.77" y="362.77" width="14.85" height="25.85" fill="#cce1f7" stroke="#000" stroke-width="1.95"/><path d="M602.77 373.7H617.62" stroke="#000" stroke-width="1.95"/><path d="M636 308V372.38M636 397.02V422M631.79 308H640.21M631.79 422H640.21" stroke="#000" stroke-width="1.9" fill="none"/><rect x="628.38" y="372.38" width="15.25" height="24.65" fill="#97c5f7" stroke="#000" stroke-width="1.95"/><path d="M628.38 384.7H643.62" stroke="#000" stroke-width="1.95"/><path d="M661.7 319V373.38M661.7 396.02V415.6M657.63 319H665.77M657.63 415.6H665.77" stroke="#000" stroke-width="1.9" fill="none"/><rect x="654.38" y="373.38" width="14.65" height="22.65" fill="#68a7fa" stroke="#000" stroke-width="1.95"/><path d="M654.38 387.3H669.02" stroke="#000" stroke-width="1.95"/><path d="M609.6 273.6V265.4H662V273.6" stroke="#000" stroke-width="1.2" fill="none"/><path d="M609.6 304.2V293H633.6V301" stroke="#000" stroke-width="1.2" fill="none"/><path d="M638.6 301V293H662V311" stroke="#000" stroke-width="1.2" fill="none"/><text x="650" y="287.36" font-size="11" text-anchor="middle" fill="#000">ns</text><path d="M631.95 254.5V259.5M629.42 255.54L634.48 258.46M634.48 255.54L629.42 258.46M640.05 254.5V259.5M637.52 255.54L642.58 258.46M642.58 255.54L637.52 258.46M617.55 281.5V286.5M615.02 282.54L620.08 285.46M620.08 282.54L615.02 285.46M625.65 281.5V286.5M623.12 282.54L628.18 285.46M628.18 282.54L623.12 285.46" stroke="#000" stroke-width="1.5" stroke-linecap="round" fill="none"/><path d="M630.28 257a1.67 1.67 0 1 0 3.34 0a1.67 1.67 0 1 0 -3.34 0zM638.38 257a1.67 1.67 0 1 0 3.34 0a1.67 1.67 0 1 0 -3.34 0zM615.88 284a1.67 1.67 0 1 0 3.34 0a1.67 1.67 0 1 0 -3.34 0zM623.98 284a1.67 1.67 0 1 0 3.34 0a1.67 1.67 0 1 0 -3.34 0z" fill="#000"/></g>
</svg></body></html>
